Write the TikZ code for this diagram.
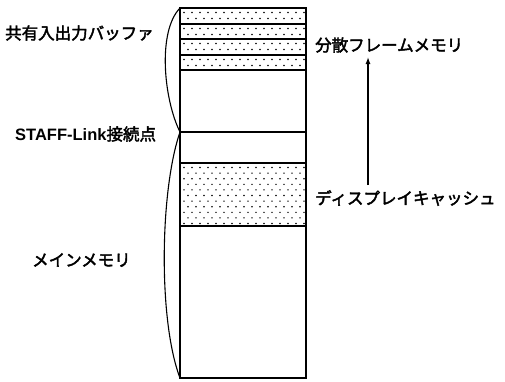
\documentclass[tikz,border=0pt]{standalone}
\usepackage{fontspec}
\newfontfamily\jp[AutoFakeBold=2.5]{Noto Sans CJK JP}
\newfontfamily\lat{Liberation Sans}
\usetikzlibrary{arrows.meta}
\begin{document}
\begin{tikzpicture}[x=1pt,y=-1pt,
  lbl/.style={font=\jp\bfseries\fontsize{16.5}{18}\selectfont, inner sep=0pt, anchor=west},
  boxline/.style={line width=1.4pt},
  divline/.style={line width=1.3pt},
  brace/.style={line width=1.1pt},
  dotfill/.style={fill=black}]
\useasboundingbox (0,0) rectangle (505,381);
% dotted bands
\foreach \a/\b in {8/24,24/39,39/55,55/70}{
  \begin{scope}
    \clip (180,\a) rectangle (306,\b);
    \foreach \r [evaluate=\r as \off using {mod(\r,2)*4}] in {0,1}{
      \foreach \c in {0,...,15}{
        \fill[dotfill] (184+\off+8*\c, \a+4.5+6*\r) circle (0.8);
      }
    }
  \end{scope}
}
\begin{scope}
  \clip (180,163) rectangle (306,226);
  \foreach \r [evaluate=\r as \off using {mod(\r,2)*4}] in {0,...,10}{
    \foreach \c in {0,...,15}{
      \fill[dotfill] (184+\off+8*\c, 167.5+5.6*\r) circle (0.8);
    }
  }
\end{scope}
% box
\coordinate (tl) at (180,8);
\coordinate (br) at (306,378);
\coordinate (link) at (180,132);
\coordinate (bl) at (180,378);
\draw[boxline] (tl) rectangle (br);
\foreach \y in {24,39,55,70,132,163,226}{
  \draw[divline] (180,\y) -- (306,\y);
}
% braces
\draw[brace] (tl) .. controls (157,32) and (164,100) .. (link);
\draw[brace] (link) .. controls (160,190) and (158,320) .. (bl);
% labels
\node[lbl] (buf) at (5,33) {共有入出力バッファ};
\node[lbl] (staff) at (15,134) {{\lat\bfseries\fontsize{16.5}{18}\selectfont STAFF-Link}接続点};
\node[lbl] (main) at (32,260) {メインメモリ};
\node[lbl] (dist) at (315,45) {分散フレームメモリ};
\node[lbl] (disp) at (315,198) {ディスプレイキャッシュ};
% arrow
\coordinate (a1) at (368,185);
\coordinate (a2) at (368,57);
\draw[line width=1.3pt, -{Latex[length=7pt,width=5pt]}] (a1) -- (a2);
\end{tikzpicture}
\end{document}
